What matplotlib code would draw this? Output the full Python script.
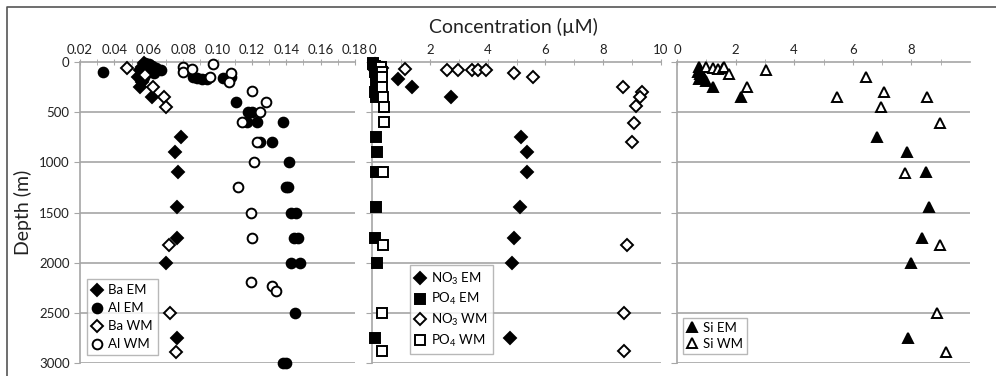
import matplotlib
matplotlib.use('Agg')
import matplotlib.pyplot as plt
from matplotlib.lines import Line2D

plt.rcParams['font.family'] = ['Lato', 'DejaVu Sans']
plt.rcParams['mathtext.fontset'] = 'custom'
plt.rcParams['mathtext.rm'] = 'Lato'
plt.rcParams['mathtext.it'] = 'Lato:italic'

# ---- panel 1: Ba and Al (value, depth m)
ba_em_x = [0.057, 0.058, 0.056, 0.055, 0.057, 0.054, 0.056, 0.055, 0.062,
           0.079, 0.075, 0.077, 0.0765, 0.0765, 0.070, 0.0765]
ba_em_d = [10, 25, 50, 75, 100, 150, 200, 250, 350,
           750, 900, 1100, 1450, 1750, 2000, 2750]

al_em_x = [0.0334, 0.058, 0.060, 0.062, 0.064, 0.067, 0.060, 0.063, 0.057,
           0.086, 0.088, 0.091, 0.094, 0.103, 0.106, 0.108,
           0.111, 0.1177, 0.120, 0.117, 0.123, 0.138, 0.1247, 0.1316,
           0.1415, 0.140, 0.141, 0.143, 0.1456, 0.1444, 0.147, 0.143, 0.148,
           0.145, 0.138, 0.140]
al_em_d = [100, 5, 20, 40, 60, 75, 100, 110, 150,
           150, 160, 170, 165, 160, 170, 150,
           400, 500, 500, 600, 600, 600, 800, 800,
           1000, 1250, 1250, 1500, 1500, 1750, 1750, 2000, 2000,
           2500, 3000, 3000]

ba_wm_x = [0.0473, 0.0578, 0.0625, 0.0689, 0.070, 0.0718, 0.0723, 0.0758]
ba_wm_d = [57, 130, 246, 345, 445, 1825, 2500, 2890]

al_wm_x = [0.0799, 0.0799, 0.0849, 0.0973, 0.0956, 0.1076, 0.1066, 0.1198,
           0.128, 0.1247, 0.1143, 0.123, 0.121, 0.112, 0.1192, 0.120,
           0.1192, 0.1316, 0.134]
al_wm_d = [47, 97, 70, 15, 146, 112, 196, 289,
           395, 495, 596, 800, 1000, 1250, 1500, 1750,
           2190, 2233, 2280]

# ---- panel 2: NO3 and PO4
no3_em_x = [0.1, 0.15, 0.1, 0.2, 0.9, 1.38, 2.73,
            5.16, 5.35, 5.35, 5.12, 4.9, 4.84, 4.77]
no3_em_d = [20, 50, 80, 120, 170, 246, 346,
            750, 900, 1100, 1450, 1750, 2000, 2750]

po4_em_x = [0.05, 0.05, 0.1, 0.1, 0.15, 0.1, 0.15, 0.2, 0.15, 0.2, 0.1, 0.15,
            0.14, 0.17, 0.14, 0.15, 0.1, 0.17, 0.1]
po4_em_d = [5, 20, 40, 60, 80, 100, 130, 160, 200, 250, 300, 350,
            750, 900, 1100, 1450, 1750, 2000, 2750]

no3_wm_x = [0.35, 1.14, 2.6, 2.98, 3.46, 3.67, 3.94, 4.91, 5.57,
            8.69, 9.34, 9.27, 9.13, 9.07, 9.0, 8.82, 8.72, 8.72]
no3_wm_d = [60, 70, 80, 80, 80, 80, 80, 110, 150,
            250, 298, 350, 440, 605, 800, 1825, 2500, 2880]

po4_wm_x = [0.3, 0.35, 0.35, 0.35, 0.38, 0.4, 0.4, 0.38, 0.38, 0.35, 0.35]
po4_wm_d = [50, 100, 150, 250, 350, 450, 600, 1100, 1820, 2500, 2880]

# ---- panel 3: Si
si_em_x = [0.75, 0.8, 0.7, 0.8, 0.85, 0.9, 0.75, 1.0, 1.23, 2.18,
           6.83, 7.85, 8.5, 8.6, 8.36, 8.0, 7.88]
si_em_d = [50, 80, 100, 120, 130, 150, 170, 190, 250, 350,
           750, 900, 1100, 1450, 1750, 2000, 2750]

si_wm_x = [1.0, 1.23, 1.4, 1.57, 1.6, 1.78, 3.04, 2.39, 6.45, 7.06, 5.46,
           8.53, 6.96, 8.98, 7.78, 8.98, 8.87, 9.18]
si_wm_d = [50, 60, 70, 60, 50, 120, 80, 250, 150, 298, 350,
           350, 445, 605, 1110, 1825, 2500, 2890]

depth_ticks = [0, 500, 1000, 1500, 2000, 2500, 3000]
grey = '#a6a6a6'

fig = plt.figure(figsize=(9.96, 3.76), dpi=100)
bottom = 1 - 363 / 376
height = 301 / 376
ax1 = fig.add_axes([80 / 996, bottom, 275 / 996, height])
ax2 = fig.add_axes([372 / 996, bottom, 289 / 996, height])
ax3 = fig.add_axes([677 / 996, bottom, 293 / 996, height])


def style(ax, xlim, major, minor, show_y):
    ax.set_xlim(xlim)
    ax.set_ylim(3000, 0)
    ax.xaxis.tick_top()
    ax.set_xticks(major)
    ax.set_xticks(minor, minor=True)
    ax.set_yticks(depth_ticks)
    for s in ['right', 'bottom']:
        ax.spines[s].set_visible(False)
    for s in ['top', 'left']:
        ax.spines[s].set_color(grey)
        ax.spines[s].set_linewidth(1.2)
    ax.tick_params(axis='x', which='both', direction='inout', length=5,
                   color=grey, labelsize=9.5, pad=1.5, labelcolor='#222222')
    ax.tick_params(axis='y', direction='out', length=4, color=grey,
                   labelsize=9.5, labelleft=show_y, labelcolor='#222222')
    for d in depth_ticks[1:]:
        ax.axhline(d, color=grey, lw=1.2, zorder=0)


def pts(ax, x, d, marker, filled, ms):
    ax.plot(x, d, linestyle='none', marker=marker, ms=ms,
            mfc='black' if filled else 'white', mec='black', mew=1.4,
            clip_on=False, zorder=3)


style(ax1, (0.02, 0.18), [0.02 + 0.02 * i for i in range(9)],
      [0.03 + 0.02 * i for i in range(8)], True)
ax1.set_xticklabels(['0.02', '0.04', '0.06', '0.08', '0.10', '0.12',
                     '0.14', '0.16', '0.18'])
pts(ax1, ba_em_x, ba_em_d, 'D', True, 6)
pts(ax1, al_em_x, al_em_d, 'o', True, 7)
pts(ax1, ba_wm_x, ba_wm_d, 'D', False, 6)
pts(ax1, al_wm_x, al_wm_d, 'o', False, 7)

style(ax2, (0, 10), [0, 2, 4, 6, 8, 10], [1, 3, 5, 7, 9], False)
pts(ax2, no3_em_x, no3_em_d, 'D', True, 6)
pts(ax2, po4_em_x, po4_em_d, 's', True, 7)
pts(ax2, no3_wm_x, no3_wm_d, 'D', False, 6)
pts(ax2, po4_wm_x, po4_wm_d, 's', False, 7)

style(ax3, (0, 10), [0, 2, 4, 6, 8], [1, 3, 5, 7, 9], False)
pts(ax3, si_em_x, si_em_d, '^', True, 7.5)
pts(ax3, si_wm_x, si_wm_d, '^', False, 7.5)


def handles(entries):
    return [Line2D([], [], linestyle='none', marker=m, ms=ms,
                   mfc='black' if f else 'white', mec='black', mew=1.4)
            for m, f, ms in entries]


leg_kw = dict(loc='lower left', fontsize=9.5, frameon=True, fancybox=False,
              edgecolor=grey, handlelength=0.8, handletextpad=0.4,
              borderaxespad=0)

lg1 = ax1.legend(handles([('D', True, 6), ('o', True, 7), ('D', False, 6), ('o', False, 7)]),
                 ['Ba EM', 'Al EM', 'Ba WM', 'Al WM'],
                 bbox_to_anchor=(0.025, 0.025), labelspacing=0.45,
                 borderpad=0.4, **leg_kw)
lg1.get_frame().set_linewidth(1.0)

lg2 = ax2.legend(handles([('D', True, 6), ('s', True, 7), ('D', False, 6), ('s', False, 7)]),
                 [r'NO$_{3}$ EM', r'PO$_{4}$ EM', r'NO$_{3}$ WM', r'PO$_{4}$ WM'],
                 bbox_to_anchor=(0.13, 0.03), labelspacing=0.35,
                 borderpad=0.4, **leg_kw)
lg2.get_frame().set_linewidth(1.0)

lg3 = ax3.legend(handles([('^', True, 7.5), ('^', False, 7.5)]),
                 ['Si EM', 'Si WM'], bbox_to_anchor=(0.02, 0.03),
                 labelspacing=0.3, borderpad=0.3, **leg_kw)
lg3.get_frame().set_linewidth(1.0)

fig.text(513 / 996, 1 - 27 / 376, 'Concentration (\u00b5M)', ha='center',
         va='center', fontsize=14, color='#222222')
fig.text(23 / 996, 1 - 212 / 376, 'Depth (m)', ha='center', va='center',
         rotation=90, fontsize=14, color='#222222')

# outer chart border (top and left edges visible)
fig.add_artist(Line2D([7 / 996, 7 / 996, 1.0], [0.0, 1 - 7 / 376, 1 - 7 / 376],
                      transform=fig.transFigure, color='#555555', lw=1.2))

fig.savefig('out.png', dpi=100)
